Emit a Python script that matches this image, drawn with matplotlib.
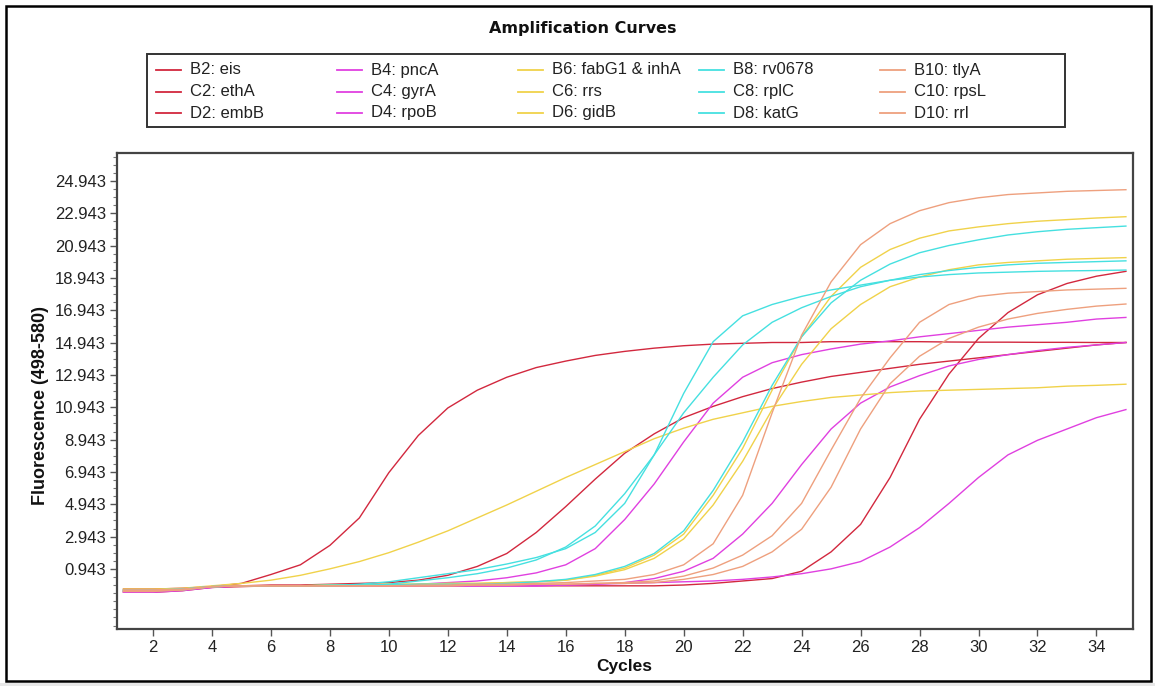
import matplotlib
matplotlib.use('Agg')
import matplotlib.pyplot as plt
from matplotlib.patches import Rectangle
from matplotlib.lines import Line2D
from matplotlib.ticker import FixedLocator, FixedFormatter
import numpy as np

plt.rcParams['font.family'] = ['Liberation Sans', 'DejaVu Sans']

W, H = 1155, 686

cycles = np.arange(1, 36)

# red wells
b2_eis = [-0.30, -0.30, -0.25, -0.15, 0.05, 0.6, 1.2, 2.4, 4.1, 6.9,
          9.2, 10.9, 12.0, 12.8, 13.4, 13.8, 14.15, 14.4, 14.6, 14.75,
          14.85, 14.9, 14.95, 14.95, 15.0, 15.0, 15.0, 15.0, 14.98, 14.97,
          14.97, 14.96, 14.96, 14.95, 14.95]
c2_etha = [-0.45, -0.45, -0.35, -0.15, -0.1, -0.05, -0.05, 0.0, 0.05, 0.1,
           0.25, 0.55, 1.1, 1.9, 3.2, 4.8, 6.5, 8.1, 9.3, 10.3,
           11.0, 11.6, 12.1, 12.5, 12.85, 13.1, 13.35, 13.6, 13.8, 14.0,
           14.2, 14.4, 14.6, 14.8, 14.95]
d2_embb = [-0.50, -0.50, -0.40, -0.20, -0.15, -0.1, -0.1, -0.1, -0.1, -0.1,
           -0.1, -0.1, -0.1, -0.1, -0.1, -0.1, -0.1, -0.1, -0.1, -0.05,
           0.05, 0.2, 0.35, 0.8, 2.0, 3.7, 6.6, 10.2, 13.0, 15.2,
           16.8, 17.9, 18.6, 19.05, 19.35]

# magenta wells
b4_pnca = [-0.40, -0.40, -0.30, -0.15, -0.1, -0.1, -0.1, -0.1, -0.1, -0.1,
           0.0, 0.1, 0.2, 0.4, 0.7, 1.2, 2.2, 4.0, 6.2, 8.8,
           11.2, 12.8, 13.7, 14.2, 14.55, 14.85, 15.05, 15.3, 15.5, 15.7,
           15.9, 16.05, 16.2, 16.4, 16.5]
c4_gyra = [-0.45, -0.45, -0.35, -0.2, -0.1, -0.1, -0.1, -0.1, -0.1, -0.1,
           -0.1, -0.1, -0.1, -0.1, -0.1, -0.05, 0.0, 0.1, 0.35, 0.8,
           1.6, 3.1, 5.0, 7.4, 9.6, 11.2, 12.2, 12.9, 13.5, 13.9,
           14.2, 14.45, 14.65, 14.8, 14.95]
d4_rpob = [-0.50, -0.50, -0.40, -0.2, -0.1, -0.1, -0.1, -0.1, -0.1, -0.1,
           -0.1, -0.1, -0.1, -0.1, -0.1, -0.05, 0.0, 0.05, 0.1, 0.15,
           0.2, 0.3, 0.45, 0.65, 0.95, 1.4, 2.3, 3.5, 5.0, 6.6,
           8.0, 8.9, 9.6, 10.3, 10.8]

# yellow wells
b6_fabg1 = [-0.30, -0.30, -0.25, -0.1, 0.05, 0.25, 0.55, 0.95, 1.4, 1.95,
            2.6, 3.3, 4.1, 4.9, 5.75, 6.6, 7.4, 8.2, 9.0, 9.65,
            10.2, 10.6, 11.0, 11.3, 11.55, 11.7, 11.85, 11.95, 12.0, 12.05,
            12.1, 12.15, 12.25, 12.3, 12.37]
c6_rrs = [-0.40, -0.40, -0.30, -0.15, -0.1, -0.1, -0.1, -0.05, -0.05, 0.0,
          0.0, 0.05, 0.05, 0.1, 0.15, 0.25, 0.55, 1.0, 1.8, 3.1,
          5.5, 8.4, 12.0, 15.3, 17.8, 19.6, 20.7, 21.4, 21.85, 22.1,
          22.3, 22.45, 22.55, 22.65, 22.73]
d6_gidb = [-0.35, -0.35, -0.30, -0.15, -0.1, -0.1, -0.1, -0.05, -0.05, 0.0,
           0.0, 0.05, 0.05, 0.1, 0.15, 0.25, 0.5, 0.9, 1.6, 2.8,
           4.9, 7.6, 10.8, 13.6, 15.8, 17.3, 18.4, 19.0, 19.45, 19.75,
           19.9, 20.0, 20.1, 20.15, 20.2]

# cyan wells
b8_rv0678 = [-0.35, -0.35, -0.30, -0.15, -0.1, -0.1, -0.1, -0.1, 0.0, 0.15,
             0.4, 0.65, 0.9, 1.25, 1.65, 2.2, 3.2, 5.0, 8.0, 11.8,
             15.0, 16.6, 17.3, 17.8, 18.2, 18.5, 18.8, 19.0, 19.15, 19.25,
             19.3, 19.35, 19.38, 19.4, 19.43]
c8_rplc = [-0.40, -0.40, -0.30, -0.15, -0.1, -0.1, -0.1, -0.1, -0.1, 0.0,
           0.2, 0.4, 0.65, 1.0, 1.5, 2.3, 3.6, 5.6, 8.0, 10.6,
           12.8, 14.8, 16.2, 17.1, 17.8, 18.4, 18.8, 19.15, 19.4, 19.6,
           19.75, 19.85, 19.9, 19.95, 20.0]
d8_katg = [-0.40, -0.40, -0.35, -0.15, -0.1, -0.1, -0.1, -0.05, -0.05, -0.05,
           0.0, 0.0, 0.0, 0.05, 0.15, 0.3, 0.6, 1.1, 1.9, 3.3,
           5.8, 8.8, 12.3, 15.3, 17.4, 18.8, 19.8, 20.5, 20.95, 21.3,
           21.6, 21.8, 21.95, 22.05, 22.15]

# salmon wells
b10_tlya = [-0.35, -0.35, -0.30, -0.15, -0.1, -0.1, -0.1, -0.1, -0.1, -0.1,
            -0.05, -0.05, 0.0, 0.0, 0.05, 0.1, 0.2, 0.3, 0.6, 1.2,
            2.5, 5.5, 10.6, 15.4, 18.7, 21.0, 22.3, 23.1, 23.6, 23.9,
            24.1, 24.2, 24.3, 24.35, 24.4]
c10_rpsl = [-0.45, -0.45, -0.35, -0.15, -0.1, -0.1, -0.1, -0.1, -0.1, -0.1,
            -0.1, -0.1, -0.05, -0.05, 0.0, 0.0, 0.05, 0.1, 0.2, 0.5,
            1.0, 1.8, 3.0, 5.0, 8.3, 11.5, 14.0, 16.2, 17.3, 17.8,
            18.0, 18.1, 18.2, 18.25, 18.3]
d10_rrl = [-0.40, -0.40, -0.35, -0.15, -0.1, -0.1, -0.1, -0.1, -0.1, -0.1,
           -0.1, -0.1, -0.05, -0.05, 0.0, 0.0, 0.05, 0.05, 0.1, 0.3,
           0.6, 1.1, 2.0, 3.4, 6.0, 9.6, 12.4, 14.1, 15.2, 15.9,
           16.4, 16.75, 17.0, 17.2, 17.33]

# legend layout: columns by colour, rows B / C / D
col_names = [
    ['B2: eis', 'C2: ethA', 'D2: embB'],
    ['B4: pncA', 'C4: gyrA', 'D4: rpoB'],
    ['B6: fabG1 & inhA', 'C6: rrs', 'D6: gidB'],
    ['B8: rv0678', 'C8: rplC', 'D8: katG'],
    ['B10: tlyA', 'C10: rpsL', 'D10: rrl'],
]
col_series = [
    [b2_eis, c2_etha, d2_embb],
    [b4_pnca, c4_gyra, d4_rpob],
    [b6_fabg1, c6_rrs, d6_gidb],
    [b8_rv0678, c8_rplc, d8_katg],
    [b10_tlya, c10_rpsl, d10_rrl],
]
col_colors = ['#d2283e', '#e040e0', '#f0d24a', '#45e0e0', '#eea07e']

y_ticks = [0.943 + 2 * k for k in range(13)]
x_ticks = list(range(2, 35, 2))

fig = plt.figure(figsize=(W / 100, H / 100), dpi=100)
fig.patch.set_facecolor('white')


def fx(px):
    return px / W


def fy(py):
    return 1 - py / H


# outer frame
fig.add_artist(Rectangle((fx(6), fy(681)), fx(1151) - fx(6), fy(6) - fy(681),
                         transform=fig.transFigure, fill=False,
                         edgecolor='black', linewidth=1.8))
fig.add_artist(Rectangle((0, 0), 1, fy(683), transform=fig.transFigure,
                         facecolor='#e8e8e8', edgecolor='none'))

fig.text(fx(583), fy(29), 'Amplification Curves', ha='center', va='center',
         fontsize=11.5, fontweight='bold', color='#111111',
         family=['DejaVu Sans'])

# legend box
fig.add_artist(Rectangle((fx(147), fy(127)), fx(1065) - fx(147), fy(54) - fy(127),
                         transform=fig.transFigure, fill=False,
                         edgecolor='#333333', linewidth=1.4))
row_y = [70, 91.5, 113]
for i, (names, color) in enumerate(zip(col_names, col_colors)):
    x0 = 156 + 181 * i
    for j, name in enumerate(names):
        fig.add_artist(Line2D([fx(x0), fx(x0 + 25)], [fy(row_y[j])] * 2,
                              transform=fig.transFigure, color=color, lw=1.3))
        fig.text(fx(x0 + 34), fy(row_y[j]), name, ha='left', va='center',
                 fontsize=12, color='#222222')

ax = fig.add_axes([fx(117), fy(629), fx(1133) - fx(117), fy(153) - fy(629)])
for series, color in zip(col_series, col_colors):
    for s in series:
        ax.plot(cycles, s, color=color, lw=1.0)

ax.set_xlim(0.78, 35.24)
ax.set_ylim(-2.77, 26.67)
ax.xaxis.set_major_locator(FixedLocator(x_ticks))
ax.yaxis.set_major_locator(FixedLocator(y_ticks))
ax.yaxis.set_major_formatter(FixedFormatter(['%.3f' % t for t in y_ticks]))
minor = [t for t in np.arange(-2.557, 26.6, 0.5) if min(abs(t - m) for m in y_ticks) > 0.1]
ax.yaxis.set_minor_locator(FixedLocator(minor))
ax.tick_params(axis='both', which='major', direction='out', length=5, width=1,
               color='#555555', labelsize=12, labelcolor='#222222', pad=3)
ax.tick_params(axis='y', which='minor', direction='out', length=3, width=0.8,
               color='#777777')
for sp in ax.spines.values():
    sp.set_color('#444444')
    sp.set_linewidth(1.6)

fig.text(fx(41), fy(405), 'Fluorescence (498-580)', rotation=90, ha='center',
         va='center', fontsize=13, fontweight='bold', color='#111111')
fig.text(fx(624), fy(667), 'Cycles', ha='center', va='center', fontsize=12.5,
         fontweight='bold', color='#111111')

fig.savefig('out.png', dpi=100)
